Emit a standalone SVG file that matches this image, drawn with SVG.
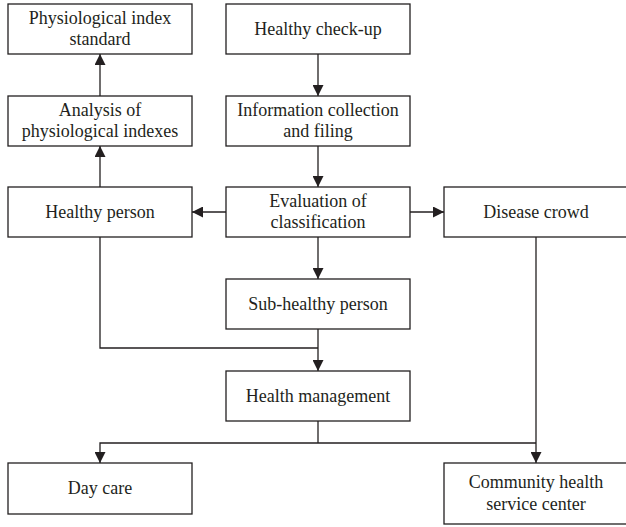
<svg xmlns="http://www.w3.org/2000/svg" width="626" height="527" viewBox="0 0 626 527">
<style>
.box{fill:#fff;stroke:#231f20;stroke-width:1.3}
.t{font-family:"Liberation Serif","Times New Roman",serif;font-size:18px;fill:#231f20;text-anchor:middle;dominant-baseline:central}
.c{fill:none;stroke:#231f20;stroke-width:1.3}
</style>
<defs>
<marker id="ah" markerWidth="11" markerHeight="11" refX="11" refY="5.5" orient="auto" markerUnits="userSpaceOnUse">
<path d="M0,0 L11,5.5 L0,11 Z" fill="#231f20"/>
</marker>
</defs>
<rect width="626" height="527" fill="#fff"/>
<g id="connectors">
<path class="c" d="M318,54 V96" marker-end="url(#ah)"/>
<path class="c" d="M318,146 V187" marker-end="url(#ah)"/>
<path class="c" d="M100,96 V54" marker-end="url(#ah)"/>
<path class="c" d="M100,187 V146" marker-end="url(#ah)"/>
<path class="c" d="M226,212 H192" marker-end="url(#ah)"/>
<path class="c" d="M410,212 H444" marker-end="url(#ah)"/>
<path class="c" d="M318,237 V279" marker-end="url(#ah)"/>
<path class="c" d="M100,237 V348 H318"/>
<path class="c" d="M318,329 V371" marker-end="url(#ah)"/>
<path class="c" d="M318,421 V443"/>
<path class="c" d="M536,443 H100 V463" marker-end="url(#ah)"/>
<path class="c" d="M536,237 V463" marker-end="url(#ah)"/>
</g>
<g id="physio-standard"><rect class="box" x="8" y="4" width="184" height="50"/><text class="t" x="100" y="18">Physiological index</text><text class="t" x="100" y="39">standard</text></g>
<g id="checkup"><rect class="box" x="226" y="4" width="184" height="50"/><text class="t" x="318" y="29">Healthy check-up</text></g>
<g id="analysis"><rect class="box" x="8" y="96" width="184" height="50"/><text class="t" x="100" y="110">Analysis of</text><text class="t" x="100" y="131">physiological indexes</text></g>
<g id="info"><rect class="box" x="226" y="96" width="184" height="50"/><text class="t" x="318" y="110">Information collection</text><text class="t" x="318" y="131">and filing</text></g>
<g id="healthy"><rect class="box" x="8" y="187" width="184" height="50"/><text class="t" x="100" y="212">Healthy person</text></g>
<g id="evaluation"><rect class="box" x="226" y="187" width="184" height="50"/><text class="t" x="318" y="201">Evaluation of</text><text class="t" x="318" y="222">classification</text></g>
<g id="disease"><rect class="box" x="444" y="187" width="184" height="50"/><text class="t" x="536" y="212">Disease crowd</text></g>
<g id="subhealthy"><rect class="box" x="226" y="279" width="184" height="50"/><text class="t" x="318" y="304">Sub-healthy person</text></g>
<g id="management"><rect class="box" x="226" y="371" width="184" height="50"/><text class="t" x="318" y="396">Health management</text></g>
<g id="daycare"><rect class="box" x="8" y="463" width="184" height="51"/><text class="t" x="100" y="488">Day care</text></g>
<g id="community"><rect class="box" x="444" y="463" width="184" height="61"/><text class="t" x="536" y="482">Community health</text><text class="t" x="536" y="504">service center</text></g>
</svg>
